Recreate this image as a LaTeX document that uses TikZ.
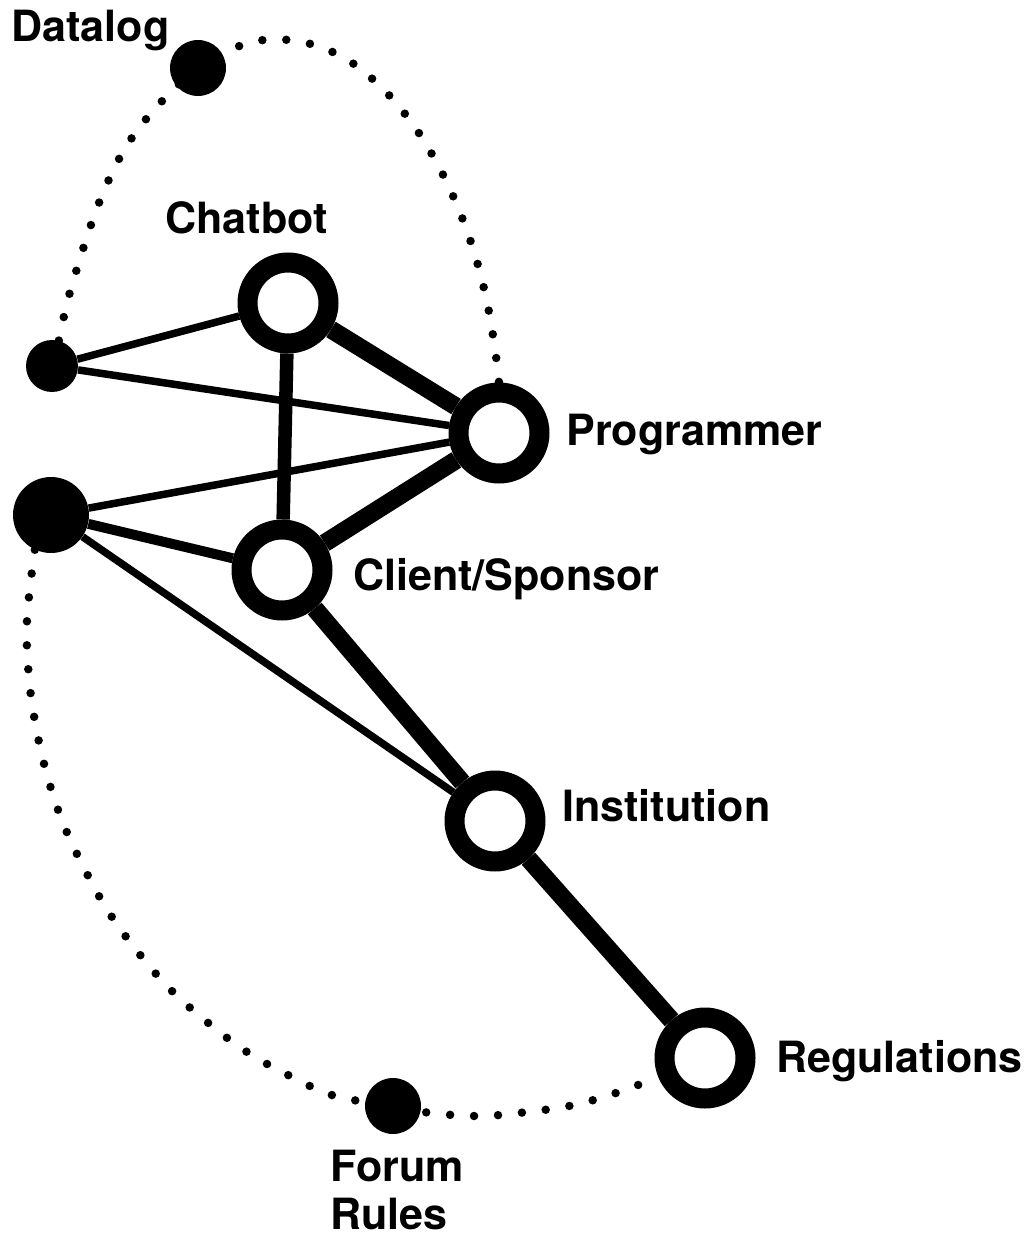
\documentclass[tikz,border=0pt]{standalone}
\usepackage{fontspec}
\newfontfamily\lblfont{TeX Gyre Heros}
\usetikzlibrary{backgrounds}
\begin{document}
\begin{tikzpicture}[x=0.02cm, y=-0.02cm,
  ring/.style={circle, draw=black, fill=white, line width=0.4cm,
               minimum size=1.62cm, inner sep=0pt},
  blob/.style={circle, fill=black, inner sep=0pt, minimum size=#1},
  lbl/.style={anchor=base west, inner sep=0pt,
              font=\lblfont\bfseries\fontsize{24.5}{29}\selectfont},
  linkthin/.style={line width=0.15cm},
  linkmid/.style={line width=0.2cm},
  linkmed/.style={line width=0.27cm},
  linkheavy/.style={line width=0.36cm},
  dotline/.style={line width=0.17cm, line cap=round,
                  dash pattern=on 0pt off 0.48cm}
]
\useasboundingbox (0,0) rectangle (1032,1236);

% nodes
\node[blob=1.12cm] (datalog) at (198,68) {};
\node[blob=1.04cm] (s1) at (52,366) {};
\node[blob=1.52cm] (b1) at (51,515) {};
\node[ring] (chat) at (288,303) {};
\node[ring] (prog) at (499,433) {};
\node[ring] (client) at (282,570) {};
\node[ring] (inst) at (495,821) {};
\node[ring] (reg) at (705,1058) {};
\node[blob=1.12cm] (forum) at (393,1106) {};

% labels
\node[lbl] (tdatalog) at (11,42) {Datalog};
\node[lbl] (tchat) at (165,234) {Chatbot};
\node[lbl] (tprog) at (566,445) {Programmer};
\node[lbl] (tclient) at (353,590) {Client/Sponsor};
\node[lbl] (tinst) at (562,821) {Institution};
\node[lbl] (treg) at (776,1072) {Regulations};
\node[lbl] (tforum) at (330,1181) {Forum};
\node[lbl] (trules) at (330,1229) {Rules};

\begin{scope}[on background layer]
  % dotted groupings
  \draw[dotline] plot[smooth, tension=0.6] coordinates {
    (s1.75) (72,285) (103,193) (139,128) (datalog) (253,42) (302,42)
    (346,59) (383,89) (414,126) (439,167) (459,210) (475,255) (487,302)
    (495,349) (prog.north)};
  \draw[dotline] plot[smooth, tension=0.6] coordinates {
    (b1.245) (27,620) (29,678) (36,727) (47,775) (63,823) (84,868)
    (108,911) (137,951) (170,989) (207,1022) (247,1052) (290,1076)
    (335,1096) (forum) (431,1113) (480,1116) (527,1112) (574,1105)
    (619,1092) (reg.202)};

  % links
  \draw[linkthin] (s1) -- (chat);
  \draw[linkthin] (s1) -- (prog);
  \draw[linkthin] (b1) -- (prog);
  \draw[linkthin] (b1) -- (inst);
  \draw[linkmid] (b1) -- (client);
  \draw[linkmed] (chat) -- (client);
  \draw[linkheavy] (chat) -- (prog);
  \draw[linkheavy] (client) -- (prog);
  \draw[linkheavy] (client) -- (inst);
  \draw[linkheavy] (inst) -- (reg);
\end{scope}
\end{tikzpicture}
\end{document}
